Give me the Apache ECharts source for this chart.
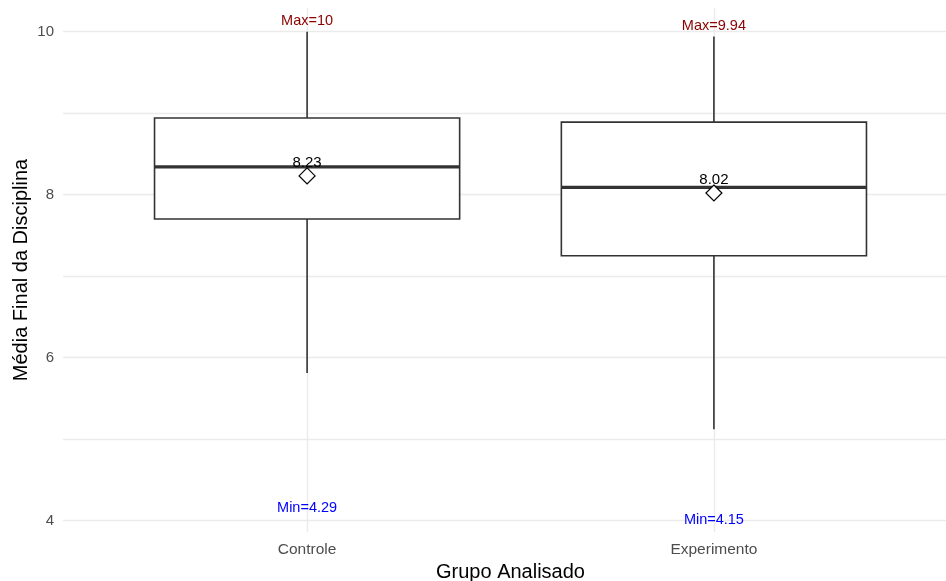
<!DOCTYPE html>
<html>
<head>
<meta charset="utf-8">
<script src="https://cdn.jsdelivr.net/npm/echarts@6/dist/echarts.min.js"></script>
<style>html,body{margin:0;padding:0;background:#fff;}#c{width:946px;height:581px;}</style>
</head>
<body>
<div id="c"></div>
<script>
// Data
const categories = ['Controle', 'Experimento'];
// [whiskerLow, Q1, median, Q3, whiskerHigh]
const boxStats = [
  [5.81, 7.70, 8.34, 8.94, 10.00],
  [5.12, 7.25, 8.09, 8.89, 9.94]
];
const meanVals = [8.23, 8.02];
const maxVals = [10, 9.94];
const minVals = [4.29, 4.15];
const yTicks = [4, 6, 8, 10];
const yGrid = [4, 5, 6, 7, 8, 9, 10];

const FONT = '"Liberation Sans", Arial, sans-serif';
const chart = echarts.init(document.getElementById('c'), null, {renderer: 'canvas'});

const boxData = boxStats.map((s, i) => [i + 1].concat(s));
const meanData = meanVals.map((v, i) => [i + 1, v]);
const maxData = maxVals.map((v, i) => [i + 1, v]);
const minData = minVals.map((v, i) => [i + 1, v]);

const BOXW = 0.75;
const LINE = '#333333';

function textSeries(data, prefix, color, dy) {
  return {
    type: 'custom', data: data, z: 6,
    encode: {x: 0, y: 1},
    renderItem: function (params, api) {
      const p = api.coord([api.value(0), api.value(1)]);
      return {
        type: 'text',
        x: p[0], y: p[1] + dy,
        style: {text: prefix + api.value(1), fill: color, font: '14.5px ' + FONT,
          textAlign: 'center', textVerticalAlign: 'middle'}
      };
    }
  };
}

chart.setOption({
  animation: false,
  backgroundColor: '#ffffff',
  grid: {left: 63, top: 8, width: 895, height: 524, containLabel: false, outerBoundsMode: 'none'},
  xAxis: {
    type: 'value', min: 0.4, max: 2.6,
    name: 'Grupo Analisado', nameLocation: 'middle', nameGap: 30, nameMoveOverlap: false,
    nameTextStyle: {fontFamily: FONT, fontSize: 20, color: '#000'},
    axisLine: {show: false},
    axisTick: {show: false, customValues: [1, 2]},
    axisLabel: {customValues: [1, 2], formatter: v => categories[Math.round(v) - 1] || '',
      fontFamily: FONT, fontSize: 15.5, color: '#4D4D4D', margin: 10},
    splitLine: {show: true, lineStyle: {color: '#EBEBEB', width: 1.4}}
  },
  yAxis: {
    type: 'value', min: 3.86, max: 10.29,
    name: 'Média Final da Disciplina', nameLocation: 'middle', nameGap: 32, nameMoveOverlap: false,
    nameTextStyle: {fontFamily: FONT, fontSize: 20, color: '#000'},
    axisLine: {show: false},
    axisTick: {show: false, customValues: yGrid},
    axisLabel: {customValues: yTicks, fontFamily: FONT, fontSize: 15, color: '#4D4D4D', margin: 9},
    splitLine: {show: true, lineStyle: {color: '#EBEBEB', width: 1.4}}
  },
  series: [
    {
      type: 'custom',
      data: boxData,
      encode: {x: 0, y: [1, 2, 3, 4, 5]},
      z: 3,
      renderItem: function (params, api) {
        const x = api.value(0);
        const lo = api.coord([x, api.value(1)]);
        const q1 = api.coord([x, api.value(2)]);
        const md = api.coord([x, api.value(3)]);
        const q3 = api.coord([x, api.value(4)]);
        const hi = api.coord([x, api.value(5)]);
        const left = api.coord([x - BOXW / 2, api.value(2)])[0];
        const right = api.coord([x + BOXW / 2, api.value(2)])[0];
        return {
          type: 'group',
          children: [
            {type: 'line', shape: {x1: hi[0], y1: hi[1], x2: q3[0], y2: q3[1]}, style: {stroke: LINE, lineWidth: 1.6}},
            {type: 'line', shape: {x1: q1[0], y1: q1[1], x2: lo[0], y2: lo[1]}, style: {stroke: LINE, lineWidth: 1.6}},
            {type: 'rect', shape: {x: left, y: q3[1], width: right - left, height: q1[1] - q3[1]},
              style: {fill: '#ffffff', stroke: LINE, lineWidth: 1.6}},
            {type: 'line', shape: {x1: left, y1: md[1], x2: right, y2: md[1]}, style: {stroke: LINE, lineWidth: 3.2}}
          ]
        };
      }
    },
    {
      type: 'scatter', data: meanData, z: 5,
      symbol: 'diamond', symbolSize: [16, 16],
      itemStyle: {color: '#ffffff', borderColor: '#000000', borderWidth: 1.2, opacity: 1},
      label: {show: true, position: 'inside', offset: [0, -13],
        formatter: p => p.value[1].toFixed(2), fontFamily: FONT, fontSize: 15, color: '#000'}
    },
    textSeries(maxData, 'Max=', '#8B0000', -11),
    textSeries(minData, 'Min=', '#0000FF', 11.5)
  ]
});
</script>
</body>
</html>
